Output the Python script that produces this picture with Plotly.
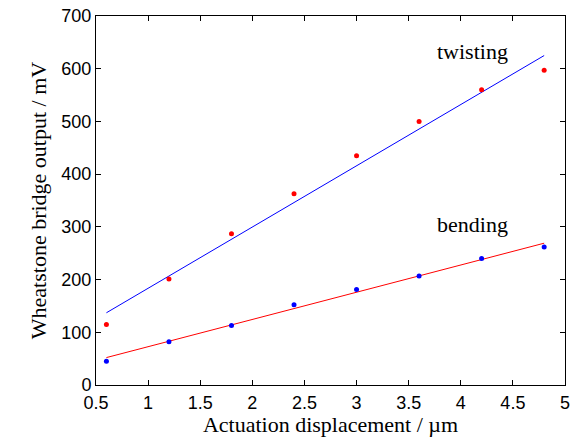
import plotly.graph_objects as go

displacement = [0.6, 1.2, 1.8, 2.4, 3.0, 3.6, 4.2, 4.8]
twisting = [115, 201, 287, 363, 435, 500, 560, 597]
bending = [45, 82, 113, 152, 181, 207, 240, 262]
fit_x = [0.6, 4.8]
twisting_fit = [137, 625]
bending_fit = [52, 269]

fig = go.Figure()
fig.add_trace(go.Scatter(x=fit_x, y=twisting_fit, mode="lines",
                         line=dict(color="#0000ff", width=1), showlegend=False))
fig.add_trace(go.Scatter(x=fit_x, y=bending_fit, mode="lines",
                         line=dict(color="#ff0000", width=1), showlegend=False))
fig.add_trace(go.Scatter(x=displacement, y=twisting, mode="markers",
                         marker=dict(color="#ff0000", size=5), showlegend=False))
fig.add_trace(go.Scatter(x=displacement, y=bending, mode="markers",
                         marker=dict(color="#0000ff", size=5), showlegend=False))

fig.add_annotation(x=4.11, y=632, text="twisting", showarrow=False,
                   font=dict(family="Liberation Serif", size=22, color="black"))
fig.add_annotation(x=4.11, y=305, text="bending", showarrow=False,
                   font=dict(family="Liberation Serif", size=22, color="black"))

axis_common = dict(showgrid=False, zeroline=False, showline=True, linecolor="black",
                   linewidth=1, mirror="ticks", ticks="inside", ticklen=5,
                   tickcolor="black", automargin=False,
                   tickfont=dict(family="Liberation Sans", size=18, color="black"))
fig.update_xaxes(range=[0.5, 5], dtick=0.5, tickformat="~g", ticklabelstandoff=1,
                 title=dict(text="Actuation displacement / µm", standoff=5,
                            font=dict(family="Liberation Serif", size=22, color="black")),
                 **axis_common)
fig.update_yaxes(range=[0, 700], dtick=100,
                 title=dict(text="Wheatstone bridge output / mV", standoff=8,
                            font=dict(family="Liberation Serif", size=22, color="black")),
                 **axis_common)
fig.update_layout(width=578, height=437, margin=dict(l=96, r=13, t=16, b=52),
                  paper_bgcolor="white", plot_bgcolor="white")
fig.write_html("out.html")
